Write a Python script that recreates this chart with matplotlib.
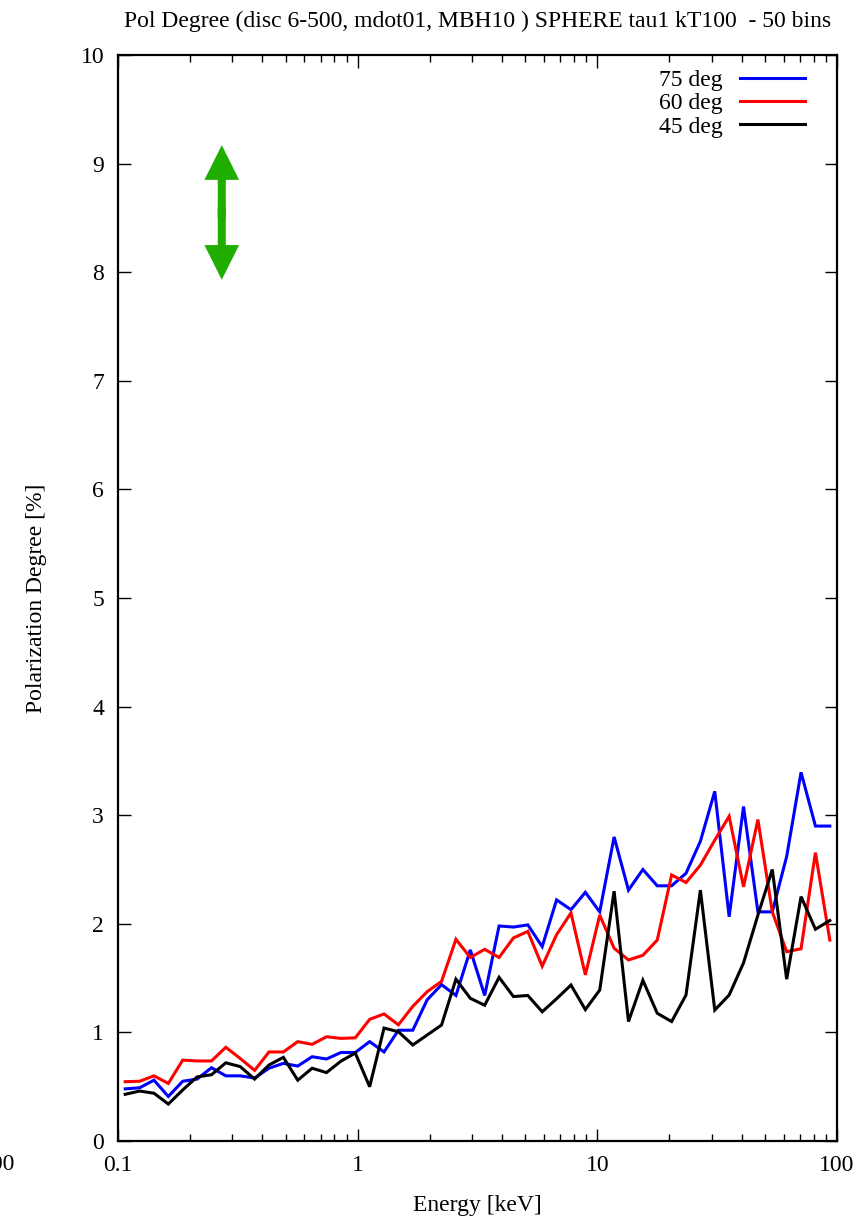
import numpy as np
import matplotlib
matplotlib.use("Agg")
import matplotlib.pyplot as plt
from matplotlib.patches import FancyArrowPatch
from matplotlib.ticker import LogLocator, FixedLocator, NullFormatter

plt.rcParams['font.family'] = ['Liberation Serif', 'DejaVu Serif']

# 50 log bins from 0.1 to 100 keV (bin centres)
n_bins = 50
edges = np.logspace(-1, 2, n_bins + 1)
energy = np.sqrt(edges[:-1] * edges[1:])

pd_75 = [0.48, 0.49, 0.56, 0.41, 0.55, 0.57, 0.675, 0.60, 0.60, 0.58,
         0.67, 0.715, 0.69, 0.776, 0.755, 0.815, 0.815, 0.915, 0.82,
         1.02, 1.02, 1.30, 1.44, 1.34, 1.76, 1.34, 1.98, 1.97, 1.99, 1.79,
         2.22, 2.13, 2.29, 2.11, 2.80, 2.31, 2.50, 2.35, 2.35, 2.465,
         2.76, 3.22, 2.065, 3.08, 2.11, 2.11, 2.62, 3.395, 2.90, 2.90]
pd_60 = [0.546, 0.55, 0.60, 0.53, 0.745, 0.737, 0.737, 0.863, 0.76, 0.65,
         0.82, 0.82, 0.915, 0.89, 0.96, 0.945, 0.95, 1.12, 1.17,
         1.07, 1.24, 1.375, 1.47, 1.857, 1.69, 1.765, 1.69, 1.87, 1.93, 1.61,
         1.90, 2.10, 1.53, 2.08, 1.775, 1.667, 1.71, 1.85, 2.45, 2.38,
         2.54, 2.77, 2.99, 2.34, 2.96, 2.11, 1.743, 1.77, 2.655, 1.85]
pd_45 = [0.43, 0.46, 0.44, 0.34, 0.47, 0.59, 0.61, 0.72, 0.685, 0.57,
         0.70, 0.77, 0.56, 0.67, 0.63, 0.735, 0.81, 0.50, 1.04,
         1.006, 0.884, 0.976, 1.068, 1.49, 1.314, 1.25, 1.507, 1.33, 1.34, 1.19,
         1.31, 1.436, 1.21, 1.39, 2.30, 1.10, 1.48, 1.176, 1.10, 1.344,
         2.31, 1.206, 1.344, 1.64, 2.08, 2.50, 1.49, 2.25, 1.95, 2.03]

series = [("75 deg", pd_75, "#0000ff"),
          ("60 deg", pd_60, "#ff0000"),
          ("45 deg", pd_45, "#000000")]

x_ticks = [0.1, 1, 10, 100]
x_ticklabels = ["0.1", "1", "10", "100"]
y_ticks = list(range(0, 11))

title = "Pol Degree (disc 6-500, mdot01, MBH10 ) SPHERE tau1 kT100  - 50 bins"
FS = 17

fig = plt.figure(figsize=(8.68, 12.2), dpi=100)
ax = fig.add_axes([118/868, 1 - 1141/1220, (837-118)/868, (1141-55)/1220])

for label, vals, col in series:
    ax.plot(energy, vals, color=col, lw=2.2, label=label, solid_joinstyle='miter')

ax.set_xscale('log')
ax.set_xlim(0.1, 100)
ax.set_ylim(0, 10)
ax.xaxis.set_major_locator(FixedLocator(x_ticks))
ax.set_xticklabels(x_ticklabels)
ax.xaxis.set_minor_locator(LogLocator(base=10, subs=np.arange(2, 10)))
ax.xaxis.set_minor_formatter(NullFormatter())
ax.set_yticks(y_ticks)
ax.set_yticklabels([str(v) for v in y_ticks])

ax.tick_params(which='major', direction='in', length=9, width=1.0,
               top=True, right=True, labelsize=FS, pad=10)
ax.tick_params(which='minor', direction='in', length=5, width=1.0,
               top=True, right=True)
for s in ax.spines.values():
    s.set_linewidth(1.6)

ax.set_xlabel("Energy [keV]", fontsize=FS)
ax.xaxis.set_label_coords(0.5, -0.0497)
ax.set_ylabel("Polarization Degree [%]", fontsize=FS)
ax.yaxis.set_label_coords(-0.0987, 0.5)
ax.set_title(title, fontsize=FS, pad=20)

leg = ax.legend(loc='upper right', bbox_to_anchor=(0.9687, 0.995),
                frameon=False, markerfirst=False,
                fontsize=FS, handlelength=2.75, handletextpad=0.72,
                labelspacing=0.065, borderaxespad=0.0, borderpad=0.4)

arrow_x = 0.271
arrow_lo, arrow_mid, arrow_hi = 7.93, 8.55, 9.17
for tip, start in ((arrow_hi, arrow_mid - 0.05), (arrow_lo, arrow_mid + 0.05)):
    ax.add_patch(FancyArrowPatch((arrow_x, start), (arrow_x, tip),
                                 arrowstyle='simple,head_length=25,head_width=25,tail_width=5.8',
                                 mutation_scale=1, lw=0, color='#1fae00',
                                 shrinkA=0, shrinkB=0))

fig.text(15/868, 1 - 1165/1220, "100", ha='right', va='center', fontsize=FS)

fig.savefig("out.png", dpi=100)
